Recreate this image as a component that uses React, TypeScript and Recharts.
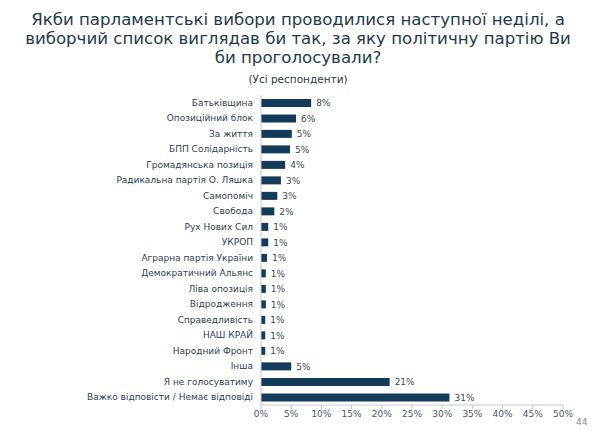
import React from "react";
import { BarChart, Bar, XAxis, YAxis, LabelList, Cell } from "recharts";

const parties = [
  "Батьківщина",
  "Опозиційний блок ",
  "За життя",
  "БПП Солідарність",
  "Громадянська позиція",
  "Радикальна партія О. Ляшка",
  "Самопоміч",
  "Свобода",
  "Рух Нових Сил ",
  "УКРОП",
  "Аграрна партія України ",
  "Демократичний Альянс",
  "Ліва опозиція ",
  "Відродження",
  "Справедливість",
  "НАШ КРАЙ",
  "Народний Фронт",
  "Інша",
  "Я не голосуватиму",
  "Важко відповісти / Немає відповіді",
];

const shares = [8.3, 5.8, 5.1, 4.8, 4.0, 3.3, 2.7, 2.2, 1.2, 1.2, 1.0, 0.8, 0.8, 0.8, 0.7, 0.7, 0.7, 5.0, 21.3, 31.2];

const shareLabels = ["8%", "6%", "5%", "5%", "4%", "3%", "3%", "2%", "1%", "1%", "1%", "1%", "1%", "1%", "1%", "1%", "1%", "5%", "21%", "31%"];

const xTicks = [0, 5, 10, 15, 20, 25, 30, 35, 40, 45, 50];

const titleLines = [
  "Якби парламентські вибори проводилися наступної неділі, а",
  "виборчий список виглядав би так, за яку політичну партію Ви",
  "би проголосували?",
];
const subtitle = "(Усі респонденти)";
const pageNumber = "44";

const data = parties.map((p, i) => ({ name: p, value: shares[i], label: shareLabels[i] }));

const FONT = "'DejaVu Sans', sans-serif";

export default function App() {
  return (
    <div
      style={{
        position: "absolute",
        left: 0,
        top: 0,
        width: 596,
        height: 438,
        background: "#fff",
        fontFamily: FONT,
        overflow: "hidden",
      }}
    >
      <div
        style={{
          position: "absolute",
          top: 10,
          left: 0,
          width: 596,
          textAlign: "center",
          color: "#1f3b4a",
          fontSize: 16.6,
          lineHeight: "19px",
        }}
      >
        {titleLines.map((t, i) => (
          <div key={i}>{t}</div>
        ))}
      </div>
      <div
        style={{
          position: "absolute",
          top: 73,
          left: 0,
          width: 596,
          textAlign: "center",
          color: "#1f3b4a",
          fontSize: 10.5,
          lineHeight: "13px",
        }}
      >
        {subtitle}
      </div>
      <div style={{ position: "absolute", left: 0, top: 0 }}>
        <BarChart
          width={596}
          height={438}
          data={data}
          layout="vertical"
          margin={{ top: 95, right: 33, bottom: 0, left: 0 }}
          barCategoryGap="25%"
        >
          <XAxis
            type="number"
            domain={[0, 50]}
            ticks={xTicks}
            tickFormatter={(v: number) => `${v}%`}
            height={33}
            axisLine={{ stroke: "#c8c8c8" }}
            tickLine={{ stroke: "#c8c8c8" }}
            tickSize={4}
            tick={{ fill: "#4a5a66", fontSize: 9, fontFamily: FONT }}
            interval={0}
          />
          <YAxis
            type="category"
            dataKey="name"
            width={261}
            axisLine={{ stroke: "#c8c8c8" }}
            tickLine={false}
            tick={{ fill: "#2b3f4f", fontSize: 9, fontFamily: FONT }}
            interval={0}
          />
          <Bar dataKey="value" fill="#143c5a" isAnimationActive={false}>
            {data.map((d, i) => (
              <Cell key={i} fill="#143c5a" />
            ))}
            <LabelList
              dataKey="label"
              position="right"
              offset={5}
              style={{ fill: "#3a4a55", fontSize: 9, fontFamily: FONT }}
            />
          </Bar>
        </BarChart>
      </div>
      <div
        style={{
          position: "absolute",
          left: 576,
          top: 417,
          fontSize: 9,
          color: "#8a8a8a",
        }}
      >
        {pageNumber}
      </div>
    </div>
  );
}
